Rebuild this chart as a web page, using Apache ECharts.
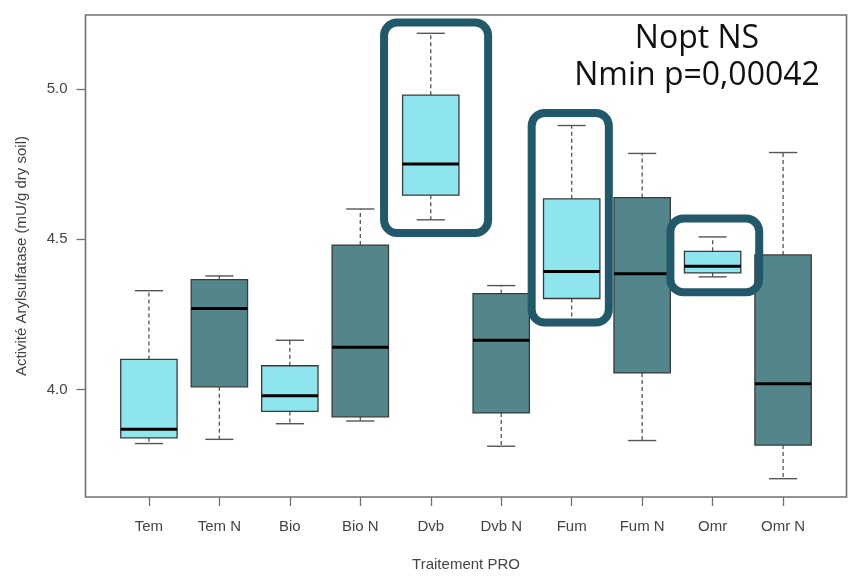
<!DOCTYPE html>
<html>
<head>
<meta charset="utf-8">
<script src="https://cdn.jsdelivr.net/npm/echarts@6/dist/echarts.min.js"></script>
<style>html,body{margin:0;padding:0;background:#fff}#c{width:856px;height:577px}</style>
</head>
<body>
<div id="c"></div>
<script>
// ---- data ----
const categories = ['Tem','Tem N','Bio','Bio N','Dvb','Dvb N','Fum','Fum N','Omr','Omr N'];
const whiskerLow  = [3.820, 3.834, 3.886, 3.895, 4.565, 3.811, 4.226, 3.830, 4.375, 3.703];
const quart1      = [3.839, 4.009, 3.927, 3.909, 4.647, 3.922, 4.303, 4.055, 4.388, 3.815];
const medians     = [3.868, 4.270, 3.979, 4.141, 4.751, 4.164, 4.393, 4.385, 4.410, 4.019];
const quart3      = [4.100, 4.366, 4.079, 4.481, 4.980, 4.319, 4.635, 4.639, 4.460, 4.448];
const whiskerHigh = [4.329, 4.378, 4.164, 4.601, 5.186, 4.346, 4.879, 4.786, 4.508, 4.789];
const yTicks = [4.0, 4.5, 5.0];
// highlight frames (x in category units, y in data units)
const hlX0 = [4.337, 6.432, 8.401];
const hlX1 = [5.814, 7.527, 9.661];
const hlY0 = [4.521, 4.223, 4.324];
const hlY1 = [5.222, 4.921, 4.569];
const annotation = ['Nopt NS', 'Nmin p=0,00042'];

// ---- styles ----
const LIGHT = '#8EE5EE', DARK = '#53868B';
const FONT = '"Liberation Sans", Arial, sans-serif';
const TXT = '#444';

const boxData = categories.map((c, i) => [i + 1, whiskerLow[i], quart1[i], medians[i], quart3[i], whiskerHigh[i]]);
const hlData = hlX0.map((x, i) => [x, hlX1[i], hlY0[i], hlY1[i]]);

const chart = echarts.init(document.getElementById('c'), null, {renderer: 'canvas'});
chart.setOption({
  animation: false,
  backgroundColor: '#fff',
  grid: {left: 85.5, right: 9.5, top: 15, bottom: 79.3, show: true, borderColor: '#707070', borderWidth: 1.6, backgroundColor: 'transparent'},
  xAxis: {
    type: 'value', min: 0.1, max: 10.9,
    axisLine: {show: false}, splitLine: {show: false},
    axisTick: {show: true, customValues: categories.map((c, i) => i + 1), length: 9, lineStyle: {color: '#707070', width: 1.3}},
    axisLabel: {customValues: categories.map((c, i) => i + 1), formatter: v => categories[Math.round(v) - 1] || '', margin: 22, fontFamily: FONT, fontSize: 15, color: TXT},
    name: 'Traitement PRO', nameLocation: 'middle', nameGap: 60,
    nameTextStyle: {fontFamily: FONT, fontSize: 15, color: TXT}
  },
  yAxis: {
    type: 'value', min: 3.642, max: 5.247,
    axisLine: {show: false}, splitLine: {show: false},
    axisTick: {show: true, customValues: yTicks, length: 9, lineStyle: {color: '#707070', width: 1.3}},
    axisLabel: {customValues: yTicks, formatter: v => v.toFixed(1), margin: 18, fontFamily: FONT, fontSize: 15, color: TXT},
    name: 'Activité Arylsulfatase (mU/g dry soil)', nameLocation: 'middle', nameGap: 56,
    nameTextStyle: {fontFamily: FONT, fontSize: 15, color: TXT}
  },
  series: [
    {
      type: 'custom',
      data: boxData,
      renderItem: function (params, api) {
        const x = api.value(0);
        const w = api.size([0.8, 0])[0];
        const cw = api.size([0.4, 0])[0];
        const c = api.coord([x, 0])[0];
        const yl = api.coord([x, api.value(1)])[1];
        const y1 = api.coord([x, api.value(2)])[1];
        const ym = api.coord([x, api.value(3)])[1];
        const y3 = api.coord([x, api.value(4)])[1];
        const yh = api.coord([x, api.value(5)])[1];
        const name = categories[params.dataIndex];
        const fill = / N$/.test(name) ? DARK : LIGHT;
        const dash = {stroke: '#555', lineWidth: 1.3, lineDash: [4, 3]};
        const solid = {stroke: '#555', lineWidth: 1.4};
        return {
          type: 'group',
          children: [
            {type: 'line', shape: {x1: c, y1: y3, x2: c, y2: yh}, style: dash},
            {type: 'line', shape: {x1: c, y1: y1, x2: c, y2: yl}, style: dash},
            {type: 'line', shape: {x1: c - cw / 2, y1: yh, x2: c + cw / 2, y2: yh}, style: solid},
            {type: 'line', shape: {x1: c - cw / 2, y1: yl, x2: c + cw / 2, y2: yl}, style: solid},
            {type: 'rect', shape: {x: c - w / 2, y: y3, width: w, height: y1 - y3}, style: {fill: fill, stroke: '#3a3a3a', lineWidth: 1.3}},
            {type: 'line', shape: {x1: c - w / 2, y1: ym, x2: c + w / 2, y2: ym}, style: {stroke: '#000', lineWidth: 3}}
          ]
        };
      }
    },
    {
      type: 'custom',
      data: hlData,
      renderItem: function (params, api) {
        const p0 = api.coord([api.value(0), api.value(3)]);
        const p1 = api.coord([api.value(1), api.value(2)]);
        return {
          type: 'rect',
          shape: {x: p0[0], y: p0[1], width: p1[0] - p0[0], height: p1[1] - p0[1], r: 13},
          style: {fill: 'none', stroke: '#22596A', lineWidth: 8}
        };
      }
    }
  ],
  graphic: [
    {type: 'text', x: 697, y: 39, style: {text: annotation[0], font: '32px "Open Sans", sans-serif', fill: '#111', align: 'center', verticalAlign: 'middle'}},
    {type: 'text', x: 697, y: 76, style: {text: annotation[1], font: '32px "Open Sans", sans-serif', fill: '#111', align: 'center', verticalAlign: 'middle'}}
  ]
});
</script>
</body>
</html>
